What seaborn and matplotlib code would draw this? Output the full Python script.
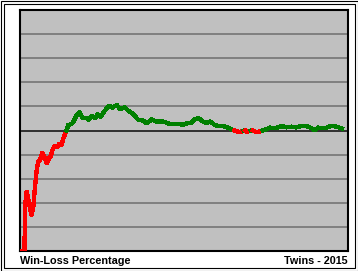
import matplotlib
matplotlib.use("Agg")
import matplotlib.pyplot as plt
import matplotlib.patches as mpatches
import seaborn as sns
import pandas as pd

# Data: game number vs. running win-loss percentage
games = [1, 3.25, 3.5, 4.35, 5.15, 6.0, 6.85, 7.65, 8.5, 9.35, 10.15, 11.0, 12.15,
         13.15, 14.35, 15.5, 16.35, 17.35, 18.5, 19.65, 20.5, 21.85, 22.65, 23.85,
         25.15, 26.85, 28.0, 29.35, 30.65, 32.35, 34.35, 35.15, 36.85, 38.5, 39.85,
         41.35, 43.0, 45.5, 47.15, 49.35, 51.0, 53.5, 55.15, 57.65, 60.15, 62.65,
         64.35, 66.85, 69.35, 72.65, 76.0, 81.0, 82.5, 85.0, 86.65, 88.35, 90.35,
         92.5, 94.15, 96.15, 98.35, 100.0, 102.5, 105.0, 107.5, 110.0, 111.65,
         113.35, 114.5, 117.0, 119.15, 121.65, 124.15, 125.85, 128.35, 130.0,
         132.0, 134.15, 136.65, 139.15, 141.65, 144.15, 145.85, 148.35, 150.0,
         153.35, 156.65, 159.15, 162.0]
pct = [0.000, 0.000, 0.184, 0.246, 0.212, 0.177, 0.149, 0.184, 0.267, 0.336, 0.371,
       0.378, 0.408, 0.391, 0.364, 0.385, 0.394, 0.422, 0.436, 0.433, 0.444, 0.440,
       0.468, 0.491, 0.523, 0.527, 0.541, 0.564, 0.576, 0.551, 0.551, 0.544, 0.561,
       0.551, 0.568, 0.557, 0.578, 0.603, 0.595, 0.606, 0.589, 0.596, 0.582, 0.568,
       0.544, 0.541, 0.530, 0.546, 0.537, 0.537, 0.527, 0.527, 0.523, 0.532, 0.532,
       0.546, 0.551, 0.537, 0.532, 0.537, 0.523, 0.519, 0.519, 0.512, 0.502, 0.495,
       0.495, 0.502, 0.494, 0.502, 0.493, 0.498, 0.505, 0.512, 0.509, 0.513, 0.519,
       0.513, 0.516, 0.513, 0.519, 0.519, 0.513, 0.502, 0.512, 0.509, 0.519, 0.516,
       0.508]
grid_levels = [0.1, 0.2, 0.3, 0.4, 0.5, 0.6, 0.7, 0.8, 0.9]
title_left = "Win-Loss Percentage"
title_right = "Twins - 2015"

df = pd.DataFrame({"game": games, "pct": pct})

W, H = 358, 271
fig = plt.figure(figsize=(W / 100, H / 100), dpi=100)
fig.patch.set_facecolor("white")
ax = fig.add_axes([20 / W, 20 / H, 328 / W, 241 / H])
ax.set_facecolor("#C0C0C0")
ax.set_xlim(1, 165)
ax.set_ylim(0, 1)

for g in grid_levels:
    ax.axhline(g, xmin=0.006, xmax=0.994,
               color="#303030" if abs(g - 0.5) < 1e-9 else "#808080",
               lw=1.4, zorder=1)

# split the line where it crosses .500: red below, green at/above
pieces = []
def col_of(a, b):
    return "#FF0000" if (a + b) / 2 < 0.5 else "#008000"
xs = list(df.game)
ys = list(df.pct)
cur_x, cur_y = [xs[0]], [ys[0]]
cur_c = None
for i in range(len(xs) - 1):
    x0, y0, x1, y1 = xs[i], ys[i], xs[i + 1], ys[i + 1]
    if (y0 - 0.5) * (y1 - 0.5) < 0:
        t = (0.5 - y0) / (y1 - y0)
        xm = x0 + t * (x1 - x0)
        subs = [(x0, y0, xm, 0.5), (xm, 0.5, x1, y1)]
    else:
        subs = [(x0, y0, x1, y1)]
    for a, b, c, d in subs:
        cc = col_of(b, d)
        if cur_c is None:
            cur_c = cc
        if cc != cur_c:
            pieces.append((cur_c, cur_x, cur_y))
            cur_x, cur_y = [a], [b]
            cur_c = cc
        cur_x.append(c)
        cur_y.append(d)
pieces.append((cur_c, cur_x, cur_y))

for c, px, py in pieces:
    seg = pd.DataFrame({"game": px, "pct": py})
    sns.lineplot(data=seg, x="game", y="pct", color=c, lw=2.4, sort=False,
                 estimator=None, ax=ax, legend=False, antialiased=False, zorder=3)

ax.set_xticks([])
ax.set_yticks([])
ax.set_xlabel("")
ax.set_ylabel("")
for sp in ax.spines.values():
    sp.set_color("black")
    sp.set_linewidth(1.5)

fig.text(20 / W, 1 - 264 / H, title_left, ha="left", va="baseline",
         fontsize=7.8, fontweight="bold", family="Liberation Sans")
fig.text(348 / W, 1 - 264 / H, title_right, ha="right", va="baseline",
         fontsize=7.8, fontweight="bold", family="Liberation Sans")

# double frame
fig.patches.append(mpatches.Rectangle((0.5 / W, 0.5 / H), (W - 1) / W, (H - 1) / H,
                                      transform=fig.transFigure, fill=False,
                                      edgecolor="black", lw=0.8))
fig.patches.append(mpatches.Rectangle((3.5 / W, 3.5 / H), (W - 7) / W, (H - 7) / H,
                                      transform=fig.transFigure, fill=False,
                                      edgecolor="black", lw=0.8))

fig.savefig("out.png", dpi=100)
